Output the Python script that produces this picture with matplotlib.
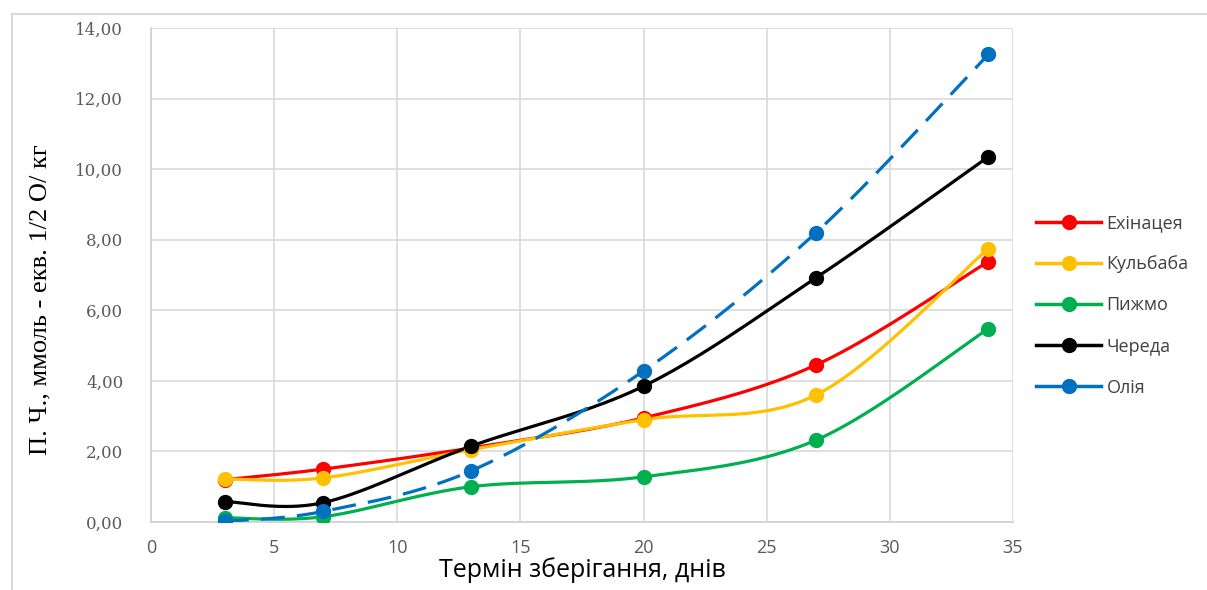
import numpy as np
import matplotlib
matplotlib.use("Agg")
import matplotlib.pyplot as plt
from matplotlib.patches import Rectangle
from matplotlib.lines import Line2D

days = [3, 7, 13, 20, 27, 34]
series_names = ["Ехінацея", "Кульбаба", "Пижмо", "Череда", "Олія"]
echinacea = [1.20, 1.50, 2.10, 2.95, 4.45, 7.38]
kulbaba = [1.22, 1.25, 2.05, 2.90, 3.60, 7.75]
pyzhmo = [0.12, 0.15, 1.00, 1.28, 2.32, 5.48]
chereda = [0.58, 0.55, 2.15, 3.85, 6.92, 10.35]
oliya = [0.02, 0.30, 1.45, 4.28, 8.20, 13.25]
yticks = [0, 2, 4, 6, 8, 10, 12, 14]
xticks = [0, 5, 10, 15, 20, 25, 30, 35]

colors = ["#FF0000", "#FFC000", "#00B050", "#000000", "#0070C0"]
styles = ["-", "-", "-", "-", (0, (7.5, 3.8))]
data = [echinacea, kulbaba, pyzhmo, chereda, oliya]


def smooth(x, y, n=40):
    # Excel-like smoothed line (Bezier with 1/6 tangents)
    x = np.asarray(x, float); y = np.asarray(y, float)
    P = np.column_stack([x, y])
    Pe = np.vstack([P[0], P, P[-1]])
    out = []
    t = np.linspace(0, 1, n)[:, None]
    for i in range(len(P) - 1):
        p0 = Pe[i + 1]; p3 = Pe[i + 2]
        c1 = p0 + (Pe[i + 2] - Pe[i]) / 6.0
        c2 = p3 - (Pe[i + 3] - Pe[i + 1]) / 6.0
        seg = ((1 - t) ** 3) * p0 + 3 * ((1 - t) ** 2) * t * c1 + 3 * (1 - t) * t ** 2 * c2 + t ** 3 * p3
        out.append(seg if i == 0 else seg[1:])
    s = np.vstack(out)
    return s[:, 0], s[:, 1]


fig = plt.figure(figsize=(12.07, 5.90), dpi=100)
fig.patches.append(Rectangle((12 / 1207, -0.1), 1.2, 1 - 14 / 590 + 0.1, transform=fig.transFigure,
                             fill=False, edgecolor="#D9D9D9", linewidth=1.5))
ax = fig.add_axes([151 / 1207, 1 - 522 / 590, (1013 - 151) / 1207, (522 - 28) / 590])

for name, vals, c, ls in zip(series_names, data, colors, styles):
    sx, sy = smooth(days, vals)
    ax.plot(sx, sy, color=c, lw=2.3, ls=ls, solid_capstyle="round", zorder=3)
    ax.plot(days, vals, "o", color=c, ms=10, zorder=4)

ax.set_xlim(0, 35)
ax.set_ylim(0, 14)
ax.set_xticks(xticks)
ax.set_yticks(yticks)
ax.set_yticklabels([f"{v:.2f}".replace(".", ",") for v in yticks],
                   fontfamily="DejaVu Serif", fontsize=12, color="#595959")
ax.set_xticklabels([str(v) for v in xticks], fontfamily="Open Sans", fontsize=13, color="#595959")
ax.tick_params(length=0, pad=12)
ax.tick_params(axis="y", pad=20)
ax.grid(True, color="#D9D9D9", lw=1.2)
ax.set_axisbelow(True)
for s in ["top", "right"]:
    ax.spines[s].set_visible(False)
for s in ["left", "bottom"]:
    ax.spines[s].set_color("#D0D0D0")
    ax.spines[s].set_linewidth(1.2)

ax.set_xlabel("Термін зберігання, днів", fontfamily="Open Sans", fontsize=18, color="#000000", labelpad=0)
fig.text(40 / 1207, 1 - 300 / 590, "П. Ч., ммоль - екв. 1/2 О/ кг", rotation=90, ha="center", va="center",
         fontfamily="Liberation Serif", fontsize=19)

handles = [Line2D([0], [0], color=c, lw=2.5, marker="o", ms=10) for c in colors]
leg = fig.legend(handles, series_names, loc="upper left", bbox_to_anchor=(1020 / 1207, 1 - 198 / 590),
                 frameon=False, handlelength=3.6, labelspacing=1.28, handletextpad=0.3,
                 prop={"family": "Open Sans", "size": 13})
for t in leg.get_texts():
    t.set_color("#404040")

fig.savefig("out.png", dpi=100)
